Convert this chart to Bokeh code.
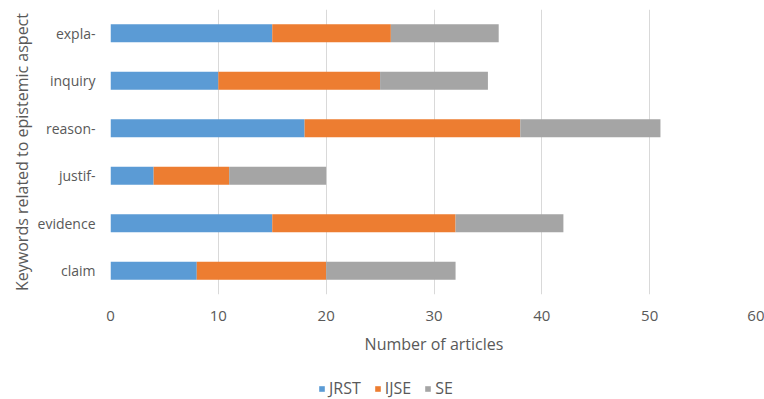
from bokeh.plotting import figure
from bokeh.models import Legend, LegendItem, FixedTicker
from bokeh.layouts import column
from bokeh.embed import file_html
from bokeh.resources import INLINE

categories = ["claim", "evidence", "justif-", "reason-", "inquiry", "expla-"]
series = ["JRST", "IJSE", "SE"]
jrst = [8, 15, 4, 18, 10, 15]
ijse = [12, 17, 7, 20, 15, 11]
se = [12, 10, 9, 13, 10, 10]
x_ticks = [0, 10, 20, 30, 40, 50, 60]
colors = ["#5B9BD5", "#ED7D31", "#A5A5A5"]

FONT = "Open Sans"
TXT = "#595959"

p = figure(width=764, height=369, y_range=categories, x_range=(0, 60),
           output_backend="svg", toolbar_location=None,
           min_border_left=110, min_border_right=7, min_border_top=9,
           min_border_bottom=75)
p.outline_line_color = None

data = dict(cat=categories, JRST=jrst, IJSE=ijse, SE=se)
p.hbar_stack(series, y="cat", height=0.38, color=colors, source=data,
             line_color=None)

p.xaxis.ticker = FixedTicker(ticks=x_ticks)
p.xaxis.axis_line_color = None
p.xaxis.major_tick_line_color = None
p.xaxis.minor_tick_line_color = None
p.xaxis.major_tick_out = 0
p.xaxis.major_label_standoff = 16
p.xaxis.major_label_text_font_size = "15px"
p.xaxis.axis_label = "Number of articles"
p.xaxis.axis_label_standoff = 9
p.yaxis.axis_label = "Keywords related to epistemic aspect"
p.yaxis.axis_line_color = None
p.yaxis.major_tick_line_color = None
p.yaxis.major_tick_out = 0
p.yaxis.major_label_standoff = 15
p.yaxis.major_label_text_font_size = "14px"
p.yaxis.axis_label_standoff = 2
for ax in (p.xaxis, p.yaxis):
    ax.major_label_text_font = FONT
    ax.major_label_text_color = TXT
    ax.axis_label_text_font = FONT
    ax.axis_label_text_font_size = "16px"
    ax.axis_label_text_font_style = "normal"
    ax.axis_label_text_color = TXT

p.xgrid.grid_line_color = "#D9D9D9"
p.ygrid.grid_line_color = None

# legend row (legend swatches only; zero-size placeholder glyphs)
lf = figure(width=764, height=30, x_range=(0, 1), y_range=(0, 1),
            output_backend="svg", toolbar_location=None,
            x_axis_location=None, y_axis_location=None,
            min_border_left=0, min_border_right=0, min_border_top=0,
            min_border_bottom=0, outline_line_color=None)
lf.grid.visible = False
lrs = [lf.hbar(y=[-1], left=[0], right=[0], height=0, fill_color=c, line_color=None)
       for c in colors]
legend = Legend(items=[LegendItem(label=s, renderers=[r]) for s, r in zip(series, lrs)],
                orientation="horizontal", location=(208, 0),
                label_text_font=FONT, label_text_font_size="16px",
                label_text_color=TXT, glyph_width=7, glyph_height=7,
                label_standoff=4, spacing=13, padding=0, margin=0,
                border_line_color=None, background_fill_alpha=0)
lf.add_layout(legend)

layout = column(p, lf, spacing=0)
open("out.html", "w").write(file_html(layout, INLINE))
